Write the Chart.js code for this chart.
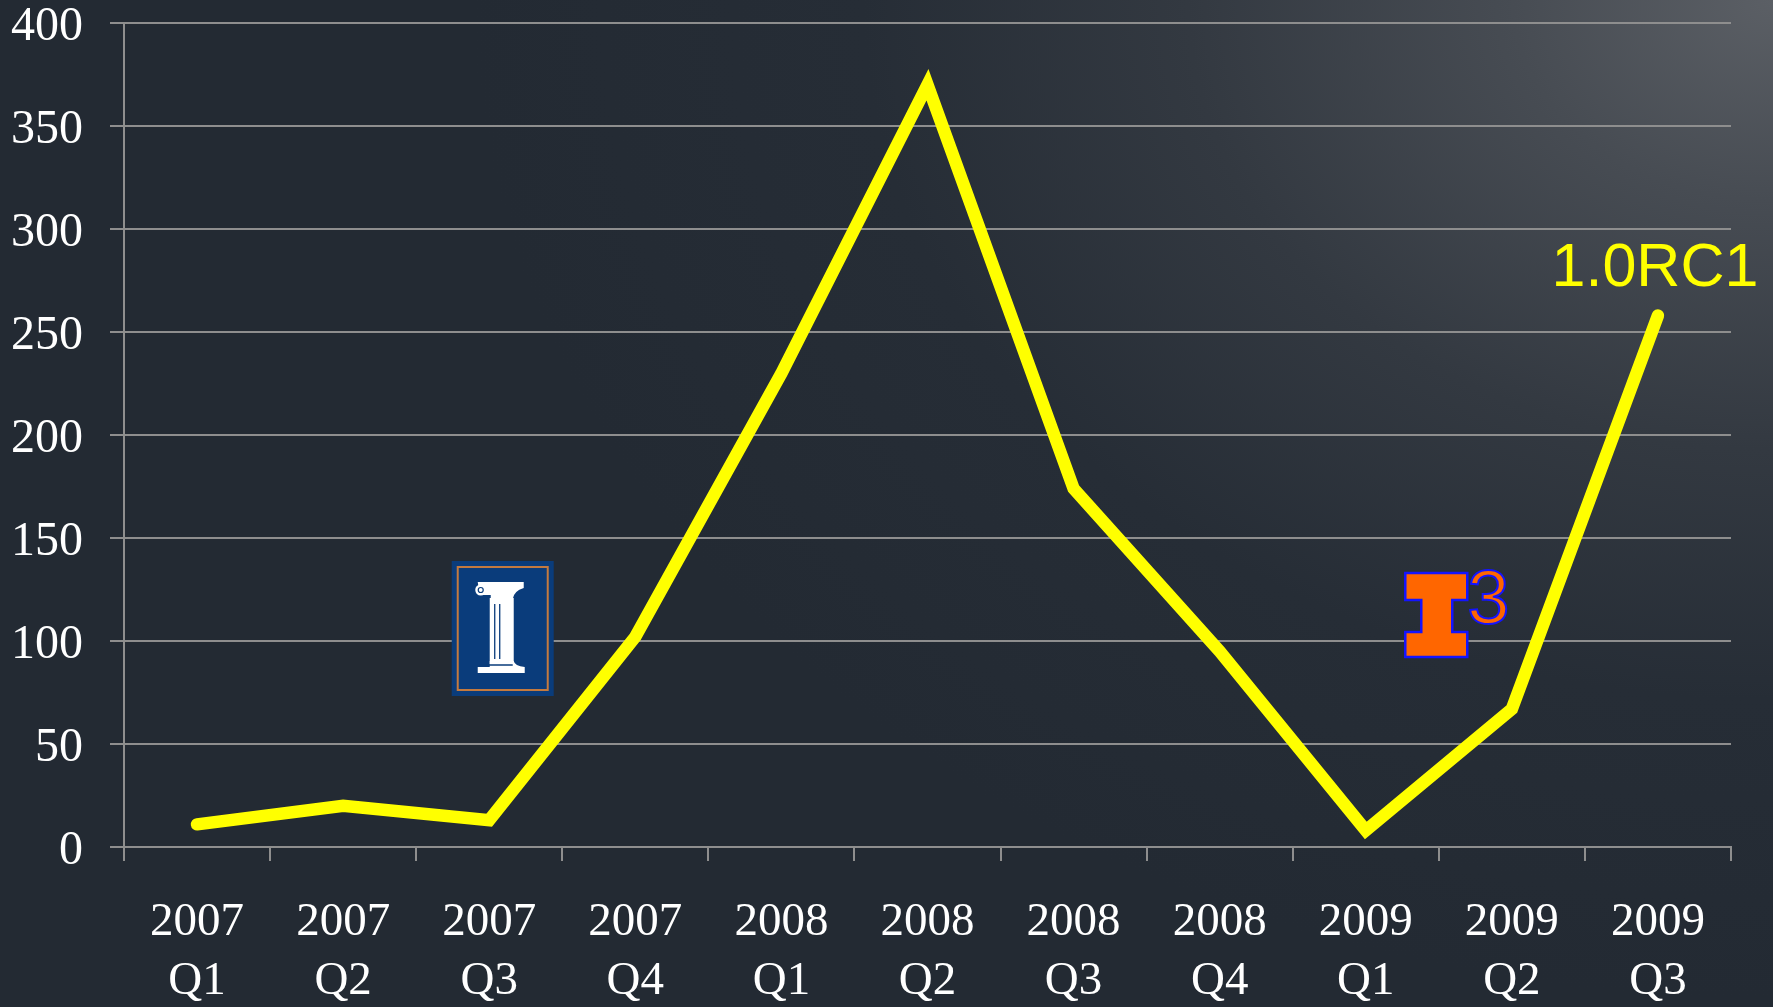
<!DOCTYPE html>
<html>
<head>
<meta charset="utf-8">
<script src="https://cdn.jsdelivr.net/npm/chart.js@4"></script>
<style>
  html, body { margin: 0; padding: 0; }
  body {
    width: 1773px; height: 1007px; overflow: hidden;
    background: radial-gradient(ellipse 1300px 1000px at 100% 0%, #5b5f65 0%, #474c53 20%, #333941 45%, #262d36 70%, #232a33 100%);
  }
  canvas { display: block; }
</style>
</head>
<body>
<canvas id="c" width="1773" height="1007"></canvas>
<script>
const years    = ['2007','2007','2007','2007','2008','2008','2008','2008','2009','2009','2009'];
const quarters = ['Q1','Q2','Q3','Q4','Q1','Q2','Q3','Q4','Q1','Q2','Q3'];
const values   = [11, 20, 13, 102, 230, 370, 174, 95, 8, 67, 258];
const yMin = 0, yMax = 400, yStep = 50;
const releaseLabel = '1.0RC1';

const labels = years.map((y, i) => [y, quarters[i]]);
const GRID = '#8e8e8e';
const SERIF = "'Liberation Serif', 'Times New Roman', serif";

const logosPlugin = {
  id: 'logos',
  afterDraw(chart) {
    const ctx = chart.ctx;
    const xs = chart.scales.x, ys = chart.scales.y;
    ctx.save();

    // Illinois column logo (near 2007 Q3)
    {
      const ax = xs.getPixelForValue(2), ay = ys.getPixelForValue(100);
      const L = ax - 37.5, T = ay - 80, W = 102, H = 135;
      ctx.fillStyle = '#0a3c7b';
      ctx.fillRect(L, T, W, H);
      ctx.strokeStyle = '#c47a3f';
      ctx.lineWidth = 2;
      ctx.strokeRect(L + 6, T + 6, W - 12, H - 12);
      ctx.fillStyle = '#ffffff';
      // capital
      ctx.beginPath();
      ctx.moveTo(L + 26, T + 21);
      ctx.lineTo(L + 72, T + 21);
      ctx.lineTo(L + 72, T + 27);
      ctx.quadraticCurveTo(L + 62, T + 30, L + 61, T + 38);
      ctx.lineTo(L + 39, T + 38);
      ctx.lineTo(L + 39, T + 34);
      ctx.lineTo(L + 28, T + 34);
      ctx.closePath();
      ctx.fill();
      ctx.beginPath();
      ctx.arc(L + 29, T + 29, 5.5, 0, Math.PI * 2);
      ctx.fill();
      ctx.strokeStyle = '#0a3c7b';
      ctx.lineWidth = 1.2;
      ctx.beginPath();
      ctx.arc(L + 29, T + 29, 2.5, 0, Math.PI * 2);
      ctx.stroke();
      // shaft
      ctx.fillStyle = '#ffffff';
      ctx.fillRect(L + 38, T + 37, 24, 66);
      // base
      ctx.beginPath();
      ctx.moveTo(L + 38, T + 100);
      ctx.lineTo(L + 62, T + 100);
      ctx.quadraticCurveTo(L + 63, T + 105, L + 73, T + 106);
      ctx.lineTo(L + 73, T + 112);
      ctx.lineTo(L + 26, T + 112);
      ctx.lineTo(L + 26, T + 106);
      ctx.lineTo(L + 38, T + 106);
      ctx.closePath();
      ctx.fill();
      // flutes
      ctx.strokeStyle = '#0a3c7b';
      ctx.lineWidth = 1.3;
      ctx.beginPath();
      ctx.moveTo(L + 43, T + 43); ctx.lineTo(L + 43, T + 98);
      ctx.moveTo(L + 48, T + 43); ctx.lineTo(L + 48, T + 98);
      ctx.moveTo(L + 28, T + 104); ctx.lineTo(L + 61, T + 104);
      ctx.stroke();
    }

    // I3 logo (near 2009 Q1)
    {
      const ax = xs.getPixelForValue(8), ay = ys.getPixelForValue(100);
      const L = ax + 39.5, T = ay - 68;
      ctx.fillStyle = '#ff6600';
      ctx.strokeStyle = '#1414ff';
      ctx.lineWidth = 2.5;
      ctx.beginPath();
      ctx.moveTo(L, T);
      ctx.lineTo(L + 62, T);
      ctx.lineTo(L + 62, T + 27);
      ctx.lineTo(L + 47, T + 27);
      ctx.lineTo(L + 47, T + 59);
      ctx.lineTo(L + 62, T + 59);
      ctx.lineTo(L + 62, T + 84);
      ctx.lineTo(L, T + 84);
      ctx.lineTo(L, T + 59);
      ctx.lineTo(L + 16, T + 59);
      ctx.lineTo(L + 16, T + 27);
      ctx.lineTo(L, T + 27);
      ctx.closePath();
      ctx.fill();
      ctx.stroke();
      ctx.font = "76px 'Liberation Sans', Arial, sans-serif";
      ctx.textAlign = 'left';
      ctx.textBaseline = 'alphabetic';
      ctx.lineWidth = 2;
      ctx.fillText('3', L + 62, T + 50);
      ctx.strokeText('3', L + 62, T + 50);
    }

    // release label at last point
    {
      const n = values.length - 1;
      const px = xs.getPixelForValue(n), py = ys.getPixelForValue(values[n]);
      ctx.font = "61px 'Liberation Sans', Arial, sans-serif";
      ctx.fillStyle = '#ffff00';
      ctx.textAlign = 'center';
      ctx.textBaseline = 'alphabetic';
      ctx.fillText(releaseLabel, px - 3, py - 30);
    }
    ctx.restore();
  }
};

new Chart(document.getElementById('c'), {
  type: 'line',
  data: {
    labels: labels,
    datasets: [{
      data: values,
      borderColor: '#ffff00',
      borderWidth: 12.5,
      borderCapStyle: 'round',
      borderJoinStyle: 'miter',
      pointRadius: 0,
      pointHoverRadius: 0,
      tension: 0,
      fill: false
    }]
  },
  options: {
    responsive: false,
    animation: false,
    events: [],
    layout: { padding: { top: 23, right: 42, left: 0, bottom: 0 } },
    plugins: { legend: { display: false }, tooltip: { enabled: false } },
    scales: {
      x: {
        type: 'category',
        offset: true,
        grid: {
          offset: true,
          drawOnChartArea: false,
          drawTicks: true,
          tickLength: 14,
          color: GRID,
          lineWidth: 2
        },
        border: { display: true, color: GRID, width: 2 },
        ticks: {
          color: '#ffffff',
          font: { family: SERIF, size: 47, lineHeight: 1.24 },
          padding: 33,
          maxRotation: 0,
          autoSkip: false
        },
        afterFit(scale) { scale.height = 160; scale.paddingLeft = 0; scale.paddingRight = 0; }
      },
      y: {
        min: yMin,
        max: yMax,
        grid: {
          color: GRID,
          lineWidth: 2,
          drawTicks: true,
          tickLength: 14
        },
        border: { display: true, color: GRID, width: 2 },
        ticks: {
          stepSize: yStep,
          color: '#ffffff',
          font: { family: SERIF, size: 48 },
          padding: 27,
          labelOffset: 4
        },
        afterFit(scale) { scale.width = 124; scale.paddingTop = 0; scale.paddingBottom = 0; }
      }
    }
  },
  plugins: [logosPlugin]
});
</script>
</body>
</html>
